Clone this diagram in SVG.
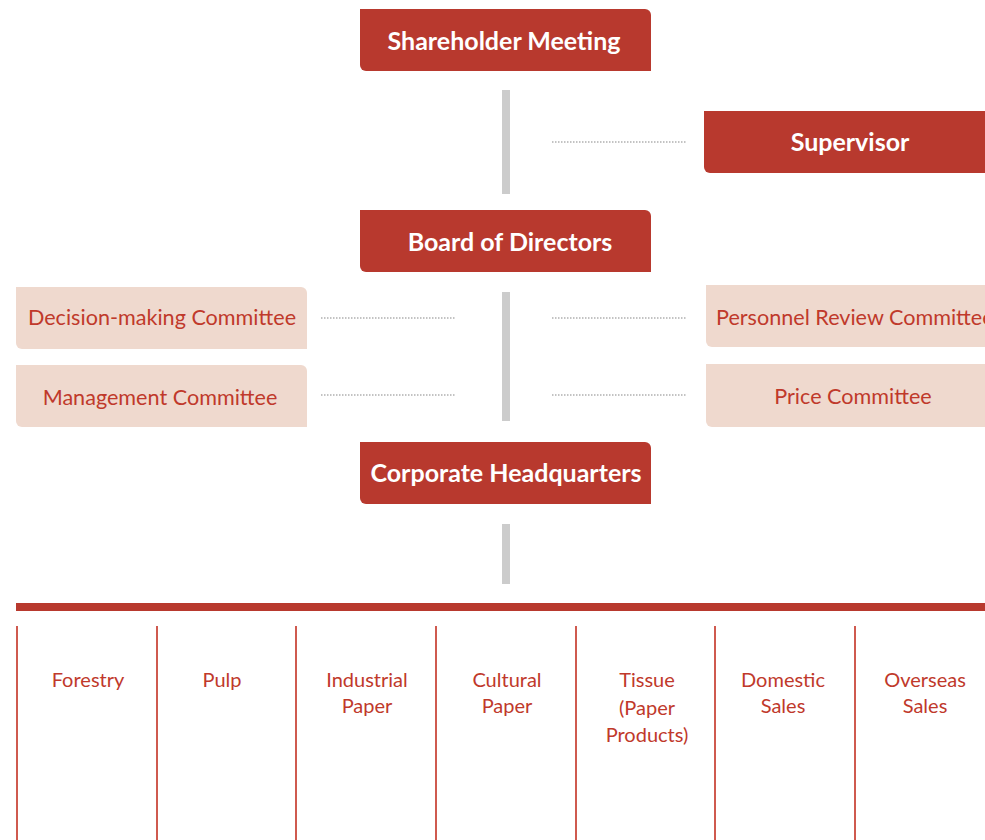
<svg xmlns="http://www.w3.org/2000/svg" width="985" height="840" viewBox="0 0 985 840">
<style>
.main{fill:#b8392e}
.sub{fill:#efd9ce}
.tb{font-family:Lato,"Open Sans","Liberation Sans",sans-serif;font-weight:bold;font-size:25px;fill:#ffffff;text-anchor:middle}
.tp{font-family:Lato,"Open Sans","Liberation Sans",sans-serif;font-size:21.6px;fill:#c0392b;text-anchor:middle}
.tc{font-family:Lato,"Open Sans","Liberation Sans",sans-serif;font-size:20px;fill:#c0392b;text-anchor:middle}
.bar{fill:#cccccc}
.dot{stroke:#888888;stroke-width:1.2;stroke-dasharray:1.5 1.5;fill:none}
.col{stroke:#cf5a4f;stroke-width:2}
</style>
<rect width="985" height="840" fill="#ffffff"/>
<g id="connectors">
<rect class="bar" x="502" y="90" width="8" height="104"/>
<rect class="bar" x="502" y="292" width="8" height="129"/>
<rect class="bar" x="502" y="524" width="8" height="60"/>
<line class="dot" x1="552" y1="142" x2="686" y2="142"/>
<line class="dot" x1="321" y1="318" x2="455" y2="318"/>
<line class="dot" x1="321" y1="395" x2="455" y2="395"/>
<line class="dot" x1="552" y1="318" x2="686" y2="318"/>
<line class="dot" x1="552" y1="395" x2="686" y2="395"/>
<rect x="16" y="603" width="969" height="8" fill="#b8392e"/>
<line class="col" x1="17" y1="626" x2="17" y2="840"/>
<line class="col" x1="157" y1="626" x2="157" y2="840"/>
<line class="col" x1="296" y1="626" x2="296" y2="840"/>
<line class="col" x1="436" y1="626" x2="436" y2="840"/>
<line class="col" x1="576" y1="626" x2="576" y2="840"/>
<line class="col" x1="715" y1="626" x2="715" y2="840"/>
<line class="col" x1="855" y1="626" x2="855" y2="840"/>
</g>
<g id="shareholder">
<path class="main" d="M360,9 H645 A6,6 0 0 1 651,15 V71 H366 A6,6 0 0 1 360,65 Z"/>
<text class="tb" x="504" y="50">Shareholder Meeting</text>
</g>
<g id="supervisor">
<path class="main" d="M704,111 H1000 V173 H710 A6,6 0 0 1 704,167 Z"/>
<text class="tb" x="850" y="151">Supervisor</text>
</g>
<g id="board">
<path class="main" d="M360,210 H645 A6,6 0 0 1 651,216 V272 H366 A6,6 0 0 1 360,266 Z"/>
<text class="tb" x="510" y="251">Board of Directors</text>
</g>
<g id="decision">
<path class="sub" d="M16,287 H301 A6,6 0 0 1 307,293 V349 H22 A6,6 0 0 1 16,343 Z"/>
<text class="tp" x="162" y="325">Decision-making Committee</text>
</g>
<g id="management">
<path class="sub" d="M16,365 H301 A6,6 0 0 1 307,371 V427 H22 A6,6 0 0 1 16,421 Z"/>
<text class="tp" x="160" y="405">Management Committee</text>
</g>
<g id="personnel">
<path class="sub" d="M706,285 H1000 V347 H712 A6,6 0 0 1 706,341 Z"/>
<text class="tp" x="716" y="325" style="text-anchor:start">Personnel Review Committee</text>
</g>
<g id="price">
<path class="sub" d="M706,364 H1000 V427 H712 A6,6 0 0 1 706,421 Z"/>
<text class="tp" x="853" y="404">Price Committee</text>
</g>
<g id="hq">
<path class="main" d="M360,442 H645 A6,6 0 0 1 651,448 V504 H366 A6,6 0 0 1 360,498 Z"/>
<text class="tb" x="506" y="482">Corporate Headquarters</text>
</g>
<g id="forestry"><text class="tc" x="88" y="687">Forestry</text></g>
<g id="pulp"><text class="tc" x="222" y="687">Pulp</text></g>
<g id="industrial"><text class="tc" x="367" y="687">Industrial</text><text class="tc" x="367" y="713">Paper</text></g>
<g id="cultural"><text class="tc" x="507" y="687">Cultural</text><text class="tc" x="507" y="713">Paper</text></g>
<g id="tissue"><text class="tc" x="647" y="687">Tissue</text><text class="tc" x="647" y="715">(Paper</text><text class="tc" x="647" y="742">Products)</text></g>
<g id="domestic"><text class="tc" x="783" y="687">Domestic</text><text class="tc" x="783" y="713">Sales</text></g>
<g id="overseas"><text class="tc" x="925" y="687">Overseas</text><text class="tc" x="925" y="713">Sales</text></g>
</svg>
